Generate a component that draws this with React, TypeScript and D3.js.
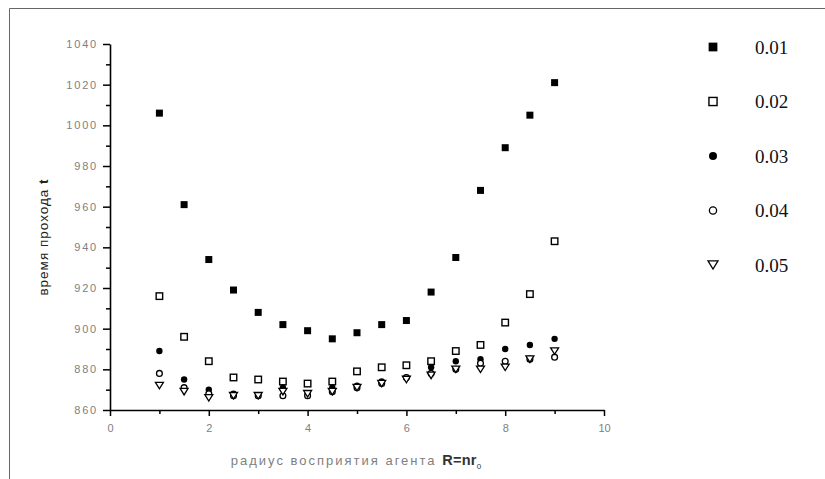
import { useEffect, useRef } from 'react';
import * as d3 from 'd3';

// радиус восприятия (x)
const radii = [1, 1.5, 2, 2.5, 3, 3.5, 4, 4.5, 5, 5.5, 6, 6.5, 7, 7.5, 8, 8.5, 9];

// время прохода t for each series
const s001 = [1006, 961, 934, 919, 908, 902, 899, 895, 898, 902, 904, 918, 935, 968, 989, 1005, 1021];
const s002 = [916, 896, 884, 876, 875, 874, 873, 874, 879, 881, 882, 884, 889, 892, 903, 917, 943];
const s003 = [889, 875, 870, 868, 867, 871, 868, 871, 872, 874, 876, 881, 884, 885, 890, 892, 895];
const s004 = [878, 871, 868, 867, 867, 867, 867, 869, 871, 873, 876, 878, 880, 883, 884, 885, 886];
const s005 = [872, 869, 866, 867, 867, 869, 868, 869, 871, 873, 875, 877, 880, 880, 881, 885, 889];

const seriesLabels = ['0.01', '0.02', '0.03', '0.04', '0.05'];
const seriesValues = [s001, s002, s003, s004, s005];
const markerKinds = ['squareFilled', 'squareOpen', 'circleFilled', 'circleOpen', 'triangleDown'];

const yMajorTicks = [860, 880, 900, 920, 940, 960, 980, 1000, 1020, 1040];
const yMinorTicks = [870, 890, 910, 930, 950, 970, 990, 1010, 1030];
const xMajorTicks = [0, 2, 4, 6, 8, 10];
const xMinorTicks = [1, 3, 5, 7, 9];

function drawMarker(g: any, kind: string, x: number, y: number, size = 1) {
  if (kind === 'squareFilled') {
    const s = 7 * size;
    g.append('rect').attr('x', x - s / 2).attr('y', y - s / 2).attr('width', s).attr('height', s)
      .attr('fill', '#000');
  } else if (kind === 'squareOpen') {
    const s = 6.5 * size;
    g.append('rect').attr('x', x - s / 2).attr('y', y - s / 2).attr('width', s).attr('height', s)
      .attr('fill', '#fff').attr('stroke', '#000').attr('stroke-width', 1.4);
  } else if (kind === 'circleFilled') {
    g.append('circle').attr('cx', x).attr('cy', y).attr('r', 3.2 * size).attr('fill', '#000');
  } else if (kind === 'circleOpen') {
    g.append('circle').attr('cx', x).attr('cy', y).attr('r', 2.9 * size)
      .attr('fill', '#fff').attr('stroke', '#000').attr('stroke-width', 1.3);
  } else {
    const w = 8 * size;
    const h = 6.5 * size;
    g.append('path')
      .attr('d', `M${x - w / 2},${y - h / 2}L${x + w / 2},${y - h / 2}L${x},${y + h / 2}Z`)
      .attr('fill', '#fff').attr('stroke', '#000').attr('stroke-width', 1.3);
  }
}

export default function App() {
  const svgRef = useRef<SVGSVGElement>(null);

  useEffect(() => {
    const width = 825;
    const height = 479;
    const left = 110, right = 604, top = 44, bottom = 410;

    const svg = d3.select(svgRef.current);
    svg.selectAll('*').remove();
    svg.attr('width', width).attr('height', height);

    svg.append('rect').attr('width', width).attr('height', height).attr('fill', '#fff');

    // рамка
    svg.append('path')
      .attr('d', `M9.5,${height}V8.5H${width}`)
      .attr('fill', 'none').attr('stroke', '#666').attr('stroke-width', 1);

    const x = d3.scaleLinear().domain([0, 10]).range([left, right]);
    const y = d3.scaleLinear().domain([860, 1040]).range([bottom, top]);

    const tickFont = 'Arial, "Liberation Sans", sans-serif';

    // ось Y
    const yAxis = svg.append('g')
      .attr('transform', `translate(${left},0)`)
      .call(d3.axisLeft(y).tickValues(yMajorTicks).tickFormat(d3.format('d')).tickSize(7).tickPadding(5).tickSizeOuter(0));
    yAxis.select('.domain').attr('stroke', '#000').attr('stroke-width', 1.6);
    yAxis.selectAll('.tick line').attr('stroke', '#000').attr('stroke-width', 1.5);
    yAxis.selectAll('.tick text')
      .attr('fill', '#808080').style('font-family', tickFont).style('font-size', '11px')
      .style('letter-spacing', '1.8px');
    svg.append('g')
      .attr('transform', `translate(${left},0)`)
      .call(d3.axisLeft(y).tickValues(yMinorTicks).tickSize(4).tickFormat(() => '').tickSizeOuter(0))
      .call(gg => gg.select('.domain').remove())
      .selectAll('.tick line').attr('stroke', '#000').attr('stroke-width', 1.5);

    // ось X
    const xAxis = svg.append('g')
      .attr('transform', `translate(0,${bottom})`)
      .call(d3.axisBottom(x).tickValues(xMajorTicks).tickSize(6).tickPadding(8).tickSizeOuter(0));
    xAxis.select('.domain').attr('stroke', '#000').attr('stroke-width', 1.6);
    xAxis.selectAll('.tick line').attr('stroke', '#000').attr('stroke-width', 1.5);
    xAxis.selectAll('.tick text')
      .attr('fill', '#808080').style('font-family', tickFont).style('font-size', '11px');
    svg.append('g')
      .attr('transform', `translate(0,${bottom})`)
      .call(d3.axisBottom(x).tickValues(xMinorTicks).tickSize(4).tickFormat(() => '').tickSizeOuter(0))
      .call(gg => gg.select('.domain').remove())
      .selectAll('.tick line').attr('stroke', '#000').attr('stroke-width', 1.5);

    // подписи осей
    svg.append('text')
      .attr('transform', `translate(48,237) rotate(-90)`)
      .attr('text-anchor', 'middle')
      .style('font-family', tickFont).style('font-size', '13.5px').attr('fill', '#222')
      .style('letter-spacing', '1px')
      .text('время прохода ')
      .append('tspan').style('font-weight', 'bold').text('t');

    const xt = svg.append('text')
      .attr('x', 357).attr('y', 465)
      .attr('text-anchor', 'middle')
      .style('font-family', tickFont).style('font-size', '13px').attr('fill', '#808080')
      .style('letter-spacing', '2px');
    xt.append('tspan').text('радиус восприятия агента ');
    xt.append('tspan').attr('fill', '#333').style('font-weight', 'bold').style('font-size', '14.5px')
      .style('letter-spacing', '0.3px').text('R=nr');
    xt.append('tspan').attr('fill', '#333').attr('dy', 4).style('font-size', '8px').text('0');

    // точки
    const plot = svg.append('g');
    seriesValues.forEach((vals, si) => {
      vals.forEach((v, i) => drawMarker(plot, markerKinds[si], x(radii[i]), y(v)));
    });

    // легенда
    const legend = svg.append('g');
    seriesLabels.forEach((lab, i) => {
      const ly = 47 + i * 54.5;
      drawMarker(legend, markerKinds[i], 713, ly, 1.25);
      legend.append('text')
        .attr('x', 755).attr('y', ly).attr('dy', '0.35em')
        .style('font-family', '"Liberation Serif", "Times New Roman", serif')
        .style('font-size', '19px').attr('fill', '#111')
        .text(lab);
    });
  }, []);

  return (
    <div style={{ position: 'absolute', left: 0, top: 0 }}>
      <svg ref={svgRef}></svg>
    </div>
  );
}
